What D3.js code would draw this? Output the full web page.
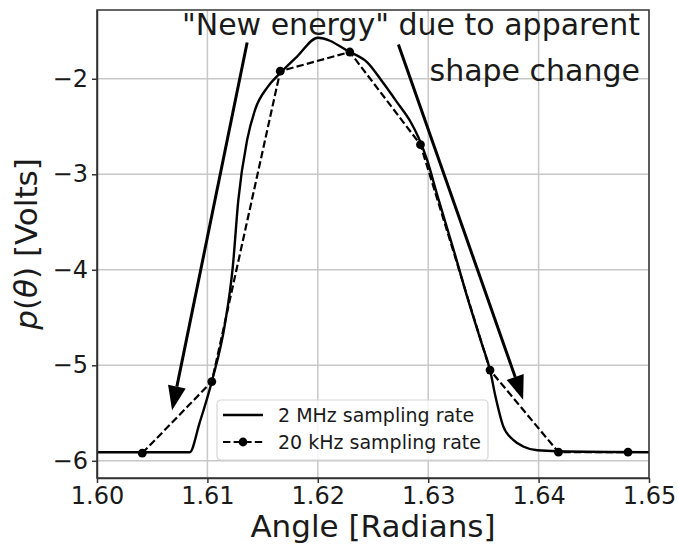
<!DOCTYPE html>
<meta charset="utf-8">
<style>
	body { margin: 0; background: #fff; }
	text { font-family: "DejaVu Sans", sans-serif; fill: #1a1a1a; }
	.grid line { stroke: #c8c8c8; stroke-width: 1.5px; }
	.axis path, .axis line { stroke: #333; stroke-width: 1.5px; }
	.axis text { font-size: 24px; }
</style>
<svg width="678" height="548"></svg>
<script src="https://cdn.jsdelivr.net/npm/d3@7"></script>
<script>

// 2 MHz sampling rate (solid)
var fastX = [1.6000, 1.6084, 1.6093, 1.6104, 1.6116, 1.6123, 1.6128, 1.6136, 1.6143, 1.6155,
	1.6166, 1.6181, 1.6200, 1.6229, 1.6245, 1.6259, 1.6272, 1.6284, 1.6291, 1.6299, 1.6308,
	1.6323, 1.6336, 1.6349, 1.6356, 1.6361, 1.6368, 1.6377, 1.6386, 1.6399, 1.6418, 1.6500];
var fastY = [-5.91, -5.91, -5.60, -5.17, -4.56, -3.97, -3.27, -2.64, -2.33, -2.08,
	-1.94, -1.77, -1.57, -1.72, -1.83, -2.04, -2.25, -2.45, -2.61, -2.85, -3.21,
	-3.79, -4.31, -4.79, -5.05, -5.33, -5.64, -5.78, -5.85, -5.89, -5.90, -5.91];

// 20 kHz sampling rate (dashed with dots)
var slowX = [1.6041, 1.6104, 1.6166, 1.6229, 1.6293, 1.6356, 1.6418, 1.6481];
var slowY = [-5.92, -5.17, -1.92, -1.72, -2.69, -5.05, -5.91, -5.91];

var xTicks = [1.60, 1.61, 1.62, 1.63, 1.64, 1.65];
var yTicks = [-6, -5, -4, -3, -2];

// annotation arrows: [fromX, fromY, toX, toY]
var arrows = [
	[1.6136, -1.62, 1.6068, -5.47],
	[1.6273, -1.64, 1.6386, -5.36]
];
var noteLines = ['"New energy" due to apparent', 'shape change'];
var legendLabels = ["2 MHz sampling rate", "20 kHz sampling rate"];

var svg = d3.select("svg"),
	margin = {top: 10, right: 29, bottom: 70, left: 97},
	width = svg.attr("width") - margin.left - margin.right,
	height = svg.attr("height") - margin.top - margin.bottom,
	g = svg.append("g").attr("transform", "translate(" + margin.left + "," + margin.top + ")");

var x = d3.scaleLinear().domain([1.60, 1.65]).range([0, width]),
	y = d3.scaleLinear().domain([-6.18, -1.28]).range([height, 0]);

g.append("clipPath").attr("id", "clip")
	.append("rect").attr("width", width).attr("height", height);

// grid
g.append("g").attr("class", "grid")
	.selectAll("line").data(xTicks).enter().append("line")
	.attr("x1", x).attr("x2", x).attr("y1", 0).attr("y2", height);
g.append("g").attr("class", "grid")
	.selectAll("line").data(yTicks).enter().append("line")
	.attr("y1", y).attr("y2", y).attr("x1", 0).attr("x2", width);

var fast = fastX.map(function(d, i) { return [d, fastY[i]]; });
var slow = slowX.map(function(d, i) { return [d, slowY[i]]; });

var line = d3.line()
	.x(function(d) { return x(d[0]); })
	.y(function(d) { return y(d[1]); });

var plot = g.append("g").attr("clip-path", "url(#clip)");

plot.append("path")
	.attr("d", line.curve(d3.curveMonotoneX)(fast))
	.attr("fill", "none").attr("stroke", "#000").attr("stroke-width", 2.4);

plot.append("path")
	.attr("d", line.curve(d3.curveLinear)(slow))
	.attr("fill", "none").attr("stroke", "#000").attr("stroke-width", 2.2)
	.attr("stroke-dasharray", "7.4,3.2");

plot.selectAll(".dot").data(slow).enter().append("circle")
	.attr("cx", function(d) { return x(d[0]); })
	.attr("cy", function(d) { return y(d[1]); })
	.attr("r", 4.4).attr("fill", "#000");

// arrows
arrows.forEach(function(a) {
	var x0 = x(a[0]), y0 = y(a[1]), x1 = x(a[2]), y1 = y(a[3]);
	var ang = Math.atan2(y1 - y0, x1 - x0);
	var hl = 24, hw = 9;
	var bx = x1 - hl * Math.cos(ang), by = y1 - hl * Math.sin(ang);
	g.append("line")
		.attr("x1", x0).attr("y1", y0).attr("x2", bx).attr("y2", by)
		.attr("stroke", "#000").attr("stroke-width", 3);
	g.append("path")
		.attr("d", "M" + x1 + "," + y1 +
			"L" + (bx + hw * Math.sin(ang)) + "," + (by - hw * Math.cos(ang)) +
			"L" + (bx - hw * Math.sin(ang)) + "," + (by + hw * Math.cos(ang)) + "Z")
		.attr("fill", "#000");
});

// annotation text
g.selectAll(".note").data(noteLines).enter().append("text")
	.attr("x", 640 - margin.left)
	.attr("y", function(d, i) { return 35 - margin.top + i * 46; })
	.attr("text-anchor", "end")
	.style("font-size", "30px")
	.text(function(d) { return d; });

// legend
var lg = g.append("g").attr("transform", "translate(" + (217 - margin.left) + "," + (400 - margin.top) + ")");
lg.append("rect")
	.attr("width", 271).attr("height", 60).attr("rx", 4)
	.attr("fill", "#fff").attr("fill-opacity", 0.8)
	.attr("stroke", "#d6d6d6").attr("stroke-width", 1.2);
lg.append("line").attr("x1", 6).attr("x2", 46).attr("y1", 15).attr("y2", 15)
	.attr("stroke", "#000").attr("stroke-width", 2.4);
lg.append("line").attr("x1", 6).attr("x2", 46).attr("y1", 42).attr("y2", 42)
	.attr("stroke", "#000").attr("stroke-width", 2.2).attr("stroke-dasharray", "7.4,3.2");
lg.append("circle").attr("cx", 26).attr("cy", 42).attr("r", 4.4).attr("fill", "#000");
lg.selectAll(".lt").data(legendLabels).enter().append("text")
	.attr("x", 61).attr("y", function(d, i) { return 15 + i * 27; })
	.attr("dy", "0.35em")
	.style("font-size", "19px")
	.text(function(d) { return d; });

// axes
g.append("g")
	.attr("class", "axis axis--x")
	.attr("transform", "translate(0," + height + ")")
	.call(d3.axisBottom(x).tickValues(xTicks).tickFormat(d3.format(".2f")).tickSize(5).tickSizeOuter(0).tickPadding(4));

g.append("g")
	.attr("class", "axis axis--y")
	.call(d3.axisLeft(y).tickValues(yTicks).tickFormat(d3.format("d")).tickSize(5).tickSizeOuter(0).tickPadding(4));

g.append("rect")
	.attr("width", width).attr("height", height)
	.attr("fill", "none").attr("stroke", "#333").attr("stroke-width", 1.5);

g.append("text")
	.attr("x", width / 2).attr("y", 537 - margin.top)
	.attr("text-anchor", "middle")
	.style("font-size", "31px")
	.text("Angle [Radians]");

var yl = svg.append("text")
	.attr("transform", "translate(37," + (margin.top + height / 2) + ") rotate(-90)")
	.attr("text-anchor", "middle")
	.style("font-size", "31px");
yl.append("tspan").style("font-style", "italic").text("p");
yl.append("tspan").text("(");
yl.append("tspan").style("font-style", "italic").text("θ");
yl.append("tspan").text(") [Volts]");

</script>
